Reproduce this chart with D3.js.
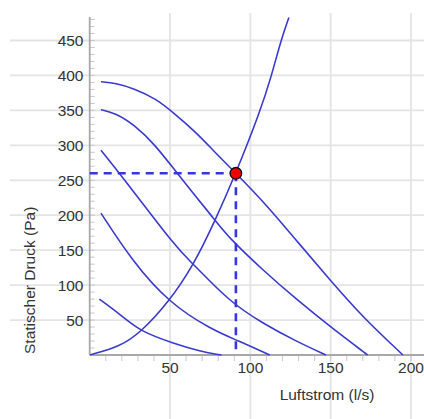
<!DOCTYPE html>
<html>
<head>
<meta charset="utf-8">
<script src="https://cdn.jsdelivr.net/npm/d3@7"></script>
<style>
  html, body { margin: 0; padding: 0; background: #fff; overflow: hidden; }
  svg { display: block; font-family: "Liberation Sans", Arial, sans-serif; }
</style>
</head>
<body>
<svg id="chart" width="424" height="419"></svg>
<script>
// ---- data ----
const xTickValues = [50, 100, 150, 200];
const yTickValues = [50, 100, 150, 200, 250, 300, 350, 400, 450];
const xLabel = "Luftstrom (l/s)";
const yLabel = "Statischer Druck (Pa)";

// fan curves: [airflow l/s, static pressure Pa]
const fanCurve1 = [[7,391],[16,389],[28,381],[41,367],[53,345],[66,319],[78,290],[91,260],[108,220],[129,163],[150,106],[170,54],[195,0]];
const fanCurve2 = [[7,351],[16,346],[28,329],[41,300],[53,264],[78,193],[87,167],[108,121],[129,79],[150,40],[173,0]];
const fanCurve3 = [[7,293],[19,259],[55,150],[63,134],[87,76],[108,45],[129,19],[147,0]];
const fanCurve4 = [[7,203],[26,136],[49,75],[76,36],[92,21],[112,0]];
const fanCurve5 = [[6,80],[19,58],[32,33],[52,17],[69,5],[82,0]];
const systemCurve = [[0,0],[19,12],[32,33],[49,75],[65,130],[78,192],[91,260],[106,348],[113,398],[119,450],[124,483]];
const operatingPoint = [91, 260];

// ---- drawing ----
const svg = d3.select("#chart");
const W = 424, H = 419;

const x = d3.scaleLinear().domain([0, 200]).range([89.7, 411]);
const y = d3.scaleLinear().domain([0, 450]).range([355, 40.5]);

const gridColor = "#e4e4e4";
const axisColor = "#a8a8a8";
const curveColor = "#3a3ad0";
const dashColor = "#3535e6";
const textColor = "#333";

// grid
const grid = svg.append("g");
grid.selectAll("line.h").data(yTickValues).join("line")
  .attr("x1", 10).attr("x2", W)
  .attr("y1", d => y(d)).attr("y2", d => y(d))
  .attr("stroke", gridColor).attr("stroke-width", 1.8);
grid.selectAll("line.v").data(xTickValues).join("line")
  .attr("x1", d => x(d)).attr("x2", d => x(d))
  .attr("y1", 13).attr("y2", H)
  .attr("stroke", gridColor).attr("stroke-width", 1.8);

// minor ticks
const xMinor = d3.range(10, 210, 10);
const yMinor = d3.range(10, 490, 10).filter(v => y(v) > 18);
svg.append("g").selectAll("line").data(xMinor).join("line")
  .attr("x1", d => x(d)).attr("x2", d => x(d))
  .attr("y1", y(0)).attr("y2", y(0) + 6)
  .attr("stroke", "#c8c8c8").attr("stroke-width", 1);
svg.append("g").selectAll("line").data(yMinor).join("line")
  .attr("x1", x(0)).attr("x2", x(0) + 5)
  .attr("y1", d => y(d)).attr("y2", d => y(d))
  .attr("stroke", "#c8c8c8").attr("stroke-width", 1);

// axes lines
svg.append("line").attr("x1", x(0)).attr("x2", W).attr("y1", y(0)).attr("y2", y(0))
  .attr("stroke", axisColor).attr("stroke-width", 1.8);
svg.append("line").attr("x1", x(0)).attr("x2", x(0)).attr("y1", y(0)).attr("y2", 17)
  .attr("stroke", axisColor).attr("stroke-width", 1.8);

// tick labels
svg.append("g").selectAll("text").data(xTickValues).join("text")
  .attr("x", d => x(d)).attr("y", 373)
  .attr("text-anchor", "middle").attr("font-size", 15.5).attr("fill", textColor)
  .text(d => d);
svg.append("g").selectAll("text").data(yTickValues).join("text")
  .attr("x", 83.5).attr("y", d => y(d) + 5.6)
  .attr("text-anchor", "end").attr("font-size", 15.5).attr("fill", textColor)
  .text(d => d);

// axis titles
svg.append("text").attr("x", 327).attr("y", 400)
  .attr("text-anchor", "middle").attr("font-size", 15.5).attr("fill", textColor)
  .text(xLabel);
svg.append("text")
  .attr("transform", "translate(35,354) rotate(-90)")
  .attr("text-anchor", "start").attr("font-size", 15.5).attr("fill", textColor)
  .text(yLabel);

// clip for plot area
svg.append("defs").append("clipPath").attr("id", "plotclip")
  .append("rect").attr("x", x(0)).attr("y", 16).attr("width", W - x(0)).attr("height", y(0) - 16 + 2);

const fanLine = d3.line().x(d => x(d[0])).y(d => y(d[1])).curve(d3.curveBasis);
const sysLine = d3.line().x(d => x(d[0])).y(d => y(d[1])).curve(d3.curveBasis);

const plot = svg.append("g").attr("clip-path", "url(#plotclip)");
[fanCurve1, fanCurve2, fanCurve3, fanCurve4, fanCurve5].forEach(c => {
  plot.append("path").datum(c).attr("d", fanLine)
    .attr("fill", "none").attr("stroke", curveColor).attr("stroke-width", 1.6);
});
plot.append("path").datum(systemCurve).attr("d", sysLine)
  .attr("fill", "none").attr("stroke", curveColor).attr("stroke-width", 1.6);

// dashed guide lines
svg.append("line")
  .attr("x1", x(0)).attr("x2", x(operatingPoint[0]))
  .attr("y1", y(operatingPoint[1])).attr("y2", y(operatingPoint[1]))
  .attr("stroke", dashColor).attr("stroke-width", 2.6).attr("stroke-dasharray", "8,6");
svg.append("line")
  .attr("x1", x(operatingPoint[0])).attr("x2", x(operatingPoint[0]))
  .attr("y1", y(operatingPoint[1])).attr("y2", y(0))
  .attr("stroke", dashColor).attr("stroke-width", 2.6).attr("stroke-dasharray", "8,6");

// operating point
svg.append("circle")
  .attr("cx", x(operatingPoint[0])).attr("cy", y(operatingPoint[1])).attr("r", 5.8)
  .attr("fill", "#ee0000").attr("stroke", "#111").attr("stroke-width", 1.3);
</script>
</body>
</html>
